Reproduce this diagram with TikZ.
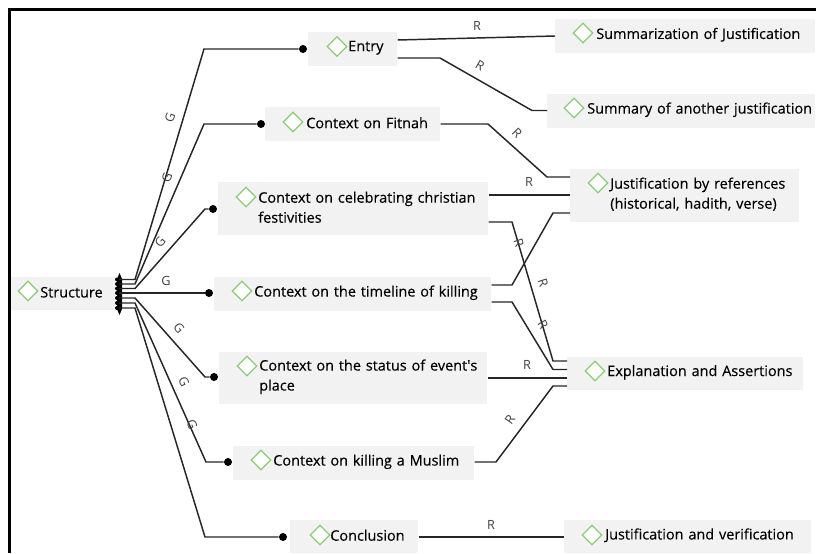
\documentclass[tikz,border=0pt]{standalone}
\usepackage{fontspec}
\setmainfont{Open Sans}
\usetikzlibrary{shapes.geometric}
\newlength{\ps}
\setlength{\ps}{0.75pt}
\definecolor{boxgray}{HTML}{F2F2F2}
\definecolor{gemgreen}{HTML}{8CCB7A}
\definecolor{linkgray}{HTML}{262626}
\tikzset{
  itembox/.style n args={3}{anchor=north west,fill=boxgray,inner xsep=0pt,inner ysep=0pt,
    text width=#1\ps,minimum height=#2\ps,align=left,text=black,
    font=\fontsize{10.85pt}{15pt}\selectfont\addfontfeature{FakeBold=0.25},execute at begin node={\leftskip=#3\ps},
    execute at end node={\par\vspace{3\ps}}},
  gem/.style={diamond,draw=gemgreen,line width=0.9pt,inner sep=0pt,minimum width=20\ps,minimum height=20\ps,fill=white},
  dot/.style={circle,fill=black,inner sep=0pt,minimum size=8\ps},
  link/.style={draw=linkgray,line width=1.1pt},
  tag/.style={font=\fontsize{9.5pt}{9.5pt}\selectfont,text=black!75,inner sep=0pt}
}
\begin{document}
\begin{tikzpicture}[x=\ps,y=-\ps]
  \useasboundingbox (0,0) rectangle (816,553);

  %boxes
  \node[itembox={104}{33}{29}] (structure) at (11,277) {Structure};
  \node[itembox={89}{34}{40}] (entry) at (308,32) {Entry};
  \node[itembox={175}{34}{41}] (fitnah) at (265,107) {Context on Fitnah};
  \node[itembox={270}{53}{40}] (celebrating) at (218,182) {Context on celebrating christian\\festivities};
  \node[itembox={277}{34}{40}] (timeline) at (214,277) {Context on the timeline of killing};
  \node[itembox={268}{52}{40}] (status) at (219,352) {Context on the status of event\textquotesingle s\\place};
  \node[itembox={241}{34}{40}] (muslim) at (233,446) {Context on killing a Muslim};
  \node[itembox={128}{33}{40}] (conclusion) at (290,520) {Conclusion};
  \node[itembox={260}{34}{41}] (summarization) at (555,19) {Summarization of Justification};
  \node[itembox={268}{34}{40}] (summary) at (547,94) {Summary of another justification};
  \node[itembox={229}{53}{40}] (references) at (570,169) {Justification by references\\(historical, hadith, verse)};
  \node[itembox={236}{33}{40}] (explanation) at (567,357) {Explanation and Assertions};
  \node[itembox={247}{33}{41}] (verification) at (564,520) {Justification and verification};

  %frame
  \draw[line width=2.3pt] (9.5,553) -- (9.5,9.5) -- (816,9.5);

  %diamonds
  \node[gem] (gstructure) at (28,291) {};
  \node[gem] (gentry) at (337,46.5) {};
  \node[gem] (gfitnah) at (293,122) {};
  \node[gem] (gcelebrating) at (246,197) {};
  \node[gem] (gtimeline) at (242,291) {};
  \node[gem] (gstatus) at (247,366) {};
  \node[gem] (gmuslim) at (261,460) {};
  \node[gem] (gconclusion) at (320,535) {};
  \node[gem] (gsummarization) at (583,33) {};
  \node[gem] (gsummary) at (574,108) {};
  \node[gem] (greferences) at (598,183) {};
  \node[gem] (gexplanation) at (595,371) {};
  \node[gem] (gverification) at (592,535) {};

  %comb at the root
  \coordinate (c1) at (119,279.5);
  \coordinate (c2) at (119,284);
  \coordinate (c3) at (119,288.5);
  \coordinate (c4) at (119,293);
  \coordinate (c5) at (119,298);
  \coordinate (c6) at (119,303);
  \coordinate (c7) at (119,308);
  \fill (119.5,273) -- (122,279) -- (122,309) -- (119.5,315) -- (117,309) -- (117,279) -- cycle;
  \foreach \i in {1,...,7} \fill (c\i) ++(-2,0) circle (2\ps);

  %ends of the branches
  \node[dot] (dentry) at (303,49) {};
  \node[dot] (dfitnah) at (261,124) {};
  \node[dot] (dcelebrating) at (213,209) {};
  \node[dot] (dtimeline) at (209,293) {};
  \node[dot] (dstatus) at (214,377) {};
  \node[dot] (dmuslim) at (228,462) {};
  \node[dot] (dconclusion) at (283,537) {};

  %G branches
  \draw[link] (c1) -- (135,279.5) -- (204,49) -- (dentry);
  \draw[link] (c2) -- (135,284) -- (204,124) -- (dfitnah);
  \draw[link] (c3) -- (135,288.5) -- (205,209) -- (dcelebrating);
  \draw[link] (c4) -- (dtimeline);
  \draw[link] (c5) -- (135,298) -- (205,377) -- (dstatus);
  \draw[link] (c6) -- (135,303) -- (206,462) -- (dmuslim);
  \draw[link] (c7) -- (135,308) -- (205,537) -- (dconclusion);

  %R links
  \draw[link] (entry.east |- 0,40) -- (summarization.west |- 0,36);
  \draw[link] (entry.east |- 0,58) -- (440,58) -- (532,110.5) -- (summary.west |- 0,110.5);
  \draw[link] (fitnah.east |- 0,124) -- (488,124) -- (547,177) -- (references.west |- 0,177);
  \draw[link] (celebrating.east |- 0,195) -- (references.west |- 0,195);
  \draw[link] (celebrating.east |- 0,222) -- (512,222) -- (553,361) -- (explanation.west |- 0,361);
  \draw[link] (timeline.east |- 0,285) -- (512,285) -- (553,213) -- (references.west |- 0,213);
  \draw[link] (timeline.east |- 0,302) -- (512,302) -- (553,369.5) -- (explanation.west |- 0,369.5);
  \draw[link] (status.east |- 0,378) -- (explanation.west |- 0,378);
  \draw[link] (muslim.east |- 0,462) -- (496,462) -- (553,386) -- (explanation.west |- 0,386);
  \draw[link] (conclusion.east |- 0,537) -- (verification.west |- 0,537);

  %labels
  \node[tag,rotate=70] (g1) at (170,118) {G};
  \node[tag,rotate=70] (g2) at (167,178) {G};
  \node[tag,rotate=50] (g3) at (160,242) {G};
  \node[tag] (g4) at (166,281) {G};
  \node[tag,rotate=-50] (g5) at (179,328) {G};
  \node[tag,rotate=-65] (g6) at (184,382) {G};
  \node[tag,rotate=-72] (g7) at (192,424) {G};
  \node[tag] (r1) at (477,26) {R};
  \node[tag,rotate=-30] (r2) at (480,66) {R};
  \node[tag,rotate=-45] (r3) at (517,133) {R};
  \node[tag] (r4) at (529,182) {R};
  \node[tag,rotate=-72] (r5) at (519,243) {R};
  \node[tag,rotate=-72] (r6) at (543,283) {R};
  \node[tag,rotate=-60] (r7) at (543,325) {R};
  \node[tag] (r8) at (527,365) {R};
  \node[tag,rotate=55] (r9) at (510,420) {R};
  \node[tag] (r10) at (491,525) {R};
\end{tikzpicture}
\end{document}
